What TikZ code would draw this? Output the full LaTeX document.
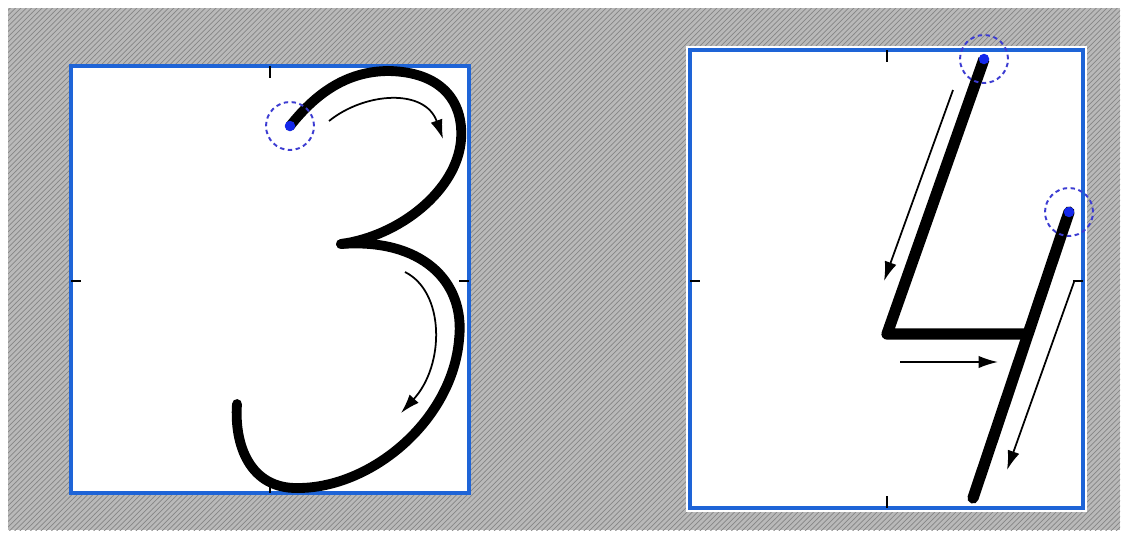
\documentclass[tikz,border=0pt]{standalone}
\usepackage{xcolor}
\usepackage{tikz}
\usetikzlibrary{arrows.meta, patterns}

\definecolor{frameblue}{RGB}{30,100,215}
\definecolor{ringblue}{RGB}{60,60,210}
\definecolor{dotblue}{RGB}{20,40,235}

\begin{document}
\begin{tikzpicture}[
        x=0.02cm, y=-0.02cm, >=Latex,
        frame/.style={draw=frameblue, line width=2.3pt, fill=white},
        tick/.style={draw=black, line width=1.6pt},
        stroke/.style={draw=black, line width=5.6pt, line cap=round, line join=round},
        guide/.style={draw=black, line width=1pt, -{Latex[length=11pt, width=7pt]}},
        startring/.style={circle, draw=ringblue, dash pattern=on 2.5pt off 2pt, line width=1.1pt, minimum size=0.96cm, inner sep=0pt},
        startdot/.style={circle, fill=dotblue, minimum size=0.21cm, inner sep=0pt},
    ]
    \useasboundingbox (0,0) rectangle (1124,535);
    % hatched backdrop
    \fill[gray!55] (8,8) rectangle (1120,530);
    \fill[pattern=north east lines, pattern color=gray!95] (8,8) rectangle (1120,530);

    % frame for the three
    \draw[frame] (71,66) rectangle (469,493);
    \draw[tick] (270,66)--(270,78); \draw[tick] (270,481)--(270,493);
    \draw[tick] (71,281)--(81,281); \draw[tick] (459,281)--(469,281);

    % frame for the four
    \draw[draw=white, line width=4.5pt] (690,50) rectangle (1083,508);
    \draw[frame] (690,50) rectangle (1083,508);
    \draw[tick] (887,50)--(887,62); \draw[tick] (887,496)--(887,508);
    \draw[tick] (690,281)--(700,281); \draw[tick] (1073,281)--(1083,281);

    % digit 3
    \coordinate (threeStart) at (290,126);
    \coordinate (threeMid) at (341,244);
    \draw[stroke] (threeStart) .. controls (320,88) and (352,71) .. (389,71)
        .. controls (440,72) and (464,100) .. (461,140)
        .. controls (457,190) and (400,236) .. (threeMid);
    \draw[stroke] (threeMid) .. controls (420,238) and (466,280) .. (459,340)
        .. controls (452,420) and (372,488) .. (298,488)
        .. controls (250,489) and (234,445) .. (237,404);
    \coordinate (g1a) at (329,121); \coordinate (g1b) at (443,139);
    \coordinate (g2a) at (405,272); \coordinate (g2b) at (401,413);
    \draw[guide] (g1a) .. controls (365,92) and (425,88) .. (g1b);
    \draw[guide] (g2a) .. controls (445,292) and (445,365) .. (g2b);
    \node[startring] (ring3) at (threeStart) {};
    \node[startdot] (dot3) at (threeStart) {};

    % digit 4
    \coordinate (fourTop) at (984,59);
    \coordinate (fourCorner) at (887,334);
    \coordinate (fourBar) at (1025,334);
    \coordinate (fourSecond) at (1069,212);
    \coordinate (fourFoot) at (973,498);
    \draw[stroke, line width=6.4pt, line cap=butt] (fourTop)--(fourCorner)--(fourBar);
    \draw[stroke, line width=6.4pt] (fourSecond)--(fourFoot);
    \coordinate (g3a) at (953,90); \coordinate (g3b) at (884,281);
    \coordinate (g4a) at (900,362); \coordinate (g4b) at (998,362);
    \coordinate (g5a) at (1074,282); \coordinate (g5b) at (1007,470);
    \draw[guide] (g3a)--(g3b);
    \draw[guide] (g4a)--(g4b);
    \draw[guide] (g5a)--(g5b);
    \node[startring] (ring4a) at (fourTop) {};
    \node[startdot] (dot4a) at (fourTop) {};
    \node[startring] (ring4b) at (fourSecond) {};
    \node[startdot] (dot4b) at (fourSecond) {};
\end{tikzpicture}
\end{document}
